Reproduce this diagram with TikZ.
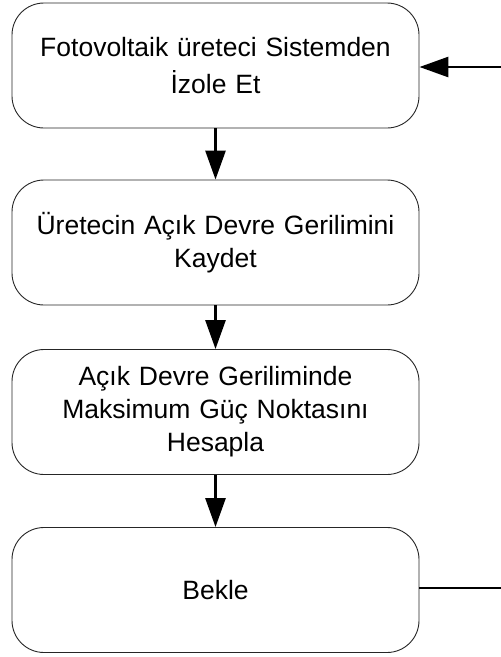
\documentclass[tikz,border=0pt]{standalone}
\usepackage{fontspec}
\setmainfont{Liberation Sans}
\usetikzlibrary{arrows.meta}
\begin{document}
\begin{tikzpicture}[x=1pt,y=-1pt,
  stepbox/.style={draw=black!85,line width=0.9pt,rounded corners=32pt,
    minimum width=407pt,minimum height=125pt,inner sep=0pt,
    text width=395pt,align=center,
    font=\fontsize{26.5pt}{33pt}\selectfont},
  flow/.style={line width=2.8pt,-{Triangle[length=29pt,width=20pt]}},
  plain/.style={line width=2.8pt}]
\useasboundingbox (0,0) rectangle (501,657);
\fill[white] (0,0) rectangle (501,657);
% process steps
\node[stepbox] (s1) at (215.5,65.5) {Fotovoltaik üreteci Sistemden\\[4pt]İzole Et};
\node[stepbox] (s2) at (215.5,242.5) {Üretecin Açık Devre Gerilimini\\Kaydet};
\node[stepbox] (s3) at (215.5,412) {Açık Devre Geriliminde\\Maksimum Güç Noktasını\\Hesapla};
\node[stepbox] (s4) at (215.5,590) {Bekle};
% loop ends leaving the right edge
\coordinate (inR) at (501,67);
\coordinate (outR) at (501,588);
\draw[flow] (s1) -- (s2);
\draw[flow] (s2) -- (s3);
\draw[flow] (s3) -- (s4);
\draw[flow] (inR) -- (s1.east |- inR);
\draw[plain] (s4.east |- outR) -- (outR);
\end{tikzpicture}
\end{document}
